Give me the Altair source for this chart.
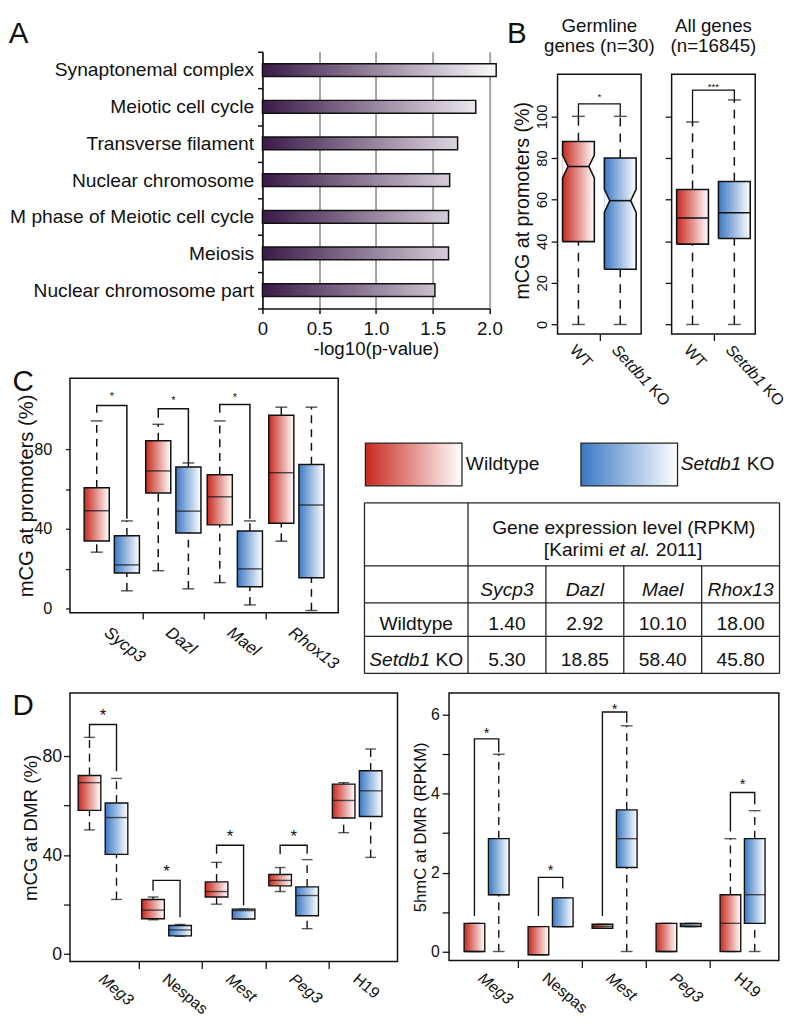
import altair as alt
import pandas as pd

FONT = "Liberation Sans"
INK = "#111111"
RED0 = "#c8291e"
BLUE0 = "#3b78c4"
PURPLE0 = "#3a1a48"
WHITE = "#ffffff"

panel_letters = ["A", "B", "C", "D"]

# ---------------- Panel A : GO enrichment
go_terms = ["Synaptonemal complex", "Meiotic cell cycle", "Transverse filament",
            "Nuclear chromosome", "M phase of Meiotic cell cycle", "Meiosis",
            "Nuclear chromosome part"]
go_logp = [2.06, 1.88, 1.72, 1.65, 1.64, 1.64, 1.52]
go_ticks = [0, 0.5, 1.0, 1.5, 2.0]
go_white_at = 2.1

# ---------------- Panel B : promoter mCG, WT vs Setdb1 KO
b_titles = [["Germline", "genes (n=30)"], ["All genes", "(n=16845)"]]
b_ytitle = "mCG at promoters (%)"
b_conditions = ["WT", "Setdb1 KO"]
b_italic_part = "Setdb1"
b_wt_low = [0.0, 0.0]
b_wt_q1 = [39.8, 38.6]
b_wt_med = [75.9, 51.2]
b_wt_q3 = [87.9, 64.9]
b_wt_up = [100.0, 97.3]
b_wt_nlo = [70.4, 51.2]
b_wt_nhi = [81.4, 51.2]
b_ko_low = [0.0, 0.0]
b_ko_q1 = [26.5, 41.3]
b_ko_med = [59.5, 53.7]
b_ko_q3 = [80.0, 68.7]
b_ko_up = [100.0, 107.9]
b_ko_nlo = [53.9, 53.7]
b_ko_nhi = [64.9, 53.7]
b_br_top = [106.0, 112.6]
b_star = ["*", "***"]
b_star_y = [110.5, 115.5]
b_yticks = [0, 20, 40, 60, 80, 100]
b_frame_y = [-4.6, 120.2]

# ---------------- Panel C : promoter mCG of germline genes
c_genes = ["Sycp3", "Dazl", "Mael", "Rhox13"]
c_wt_low = [28.3, 19.0, 13.0, 33.8]
c_wt_q1 = [33.9, 58.0, 42.0, 42.8]
c_wt_med = [49.1, 69.1, 56.1, 68.2]
c_wt_q3 = [60.6, 84.3, 67.2, 97.1]
c_wt_up = [94.2, 92.5, 94.2, 101.1]
c_ko_low = [8.9, 9.9, 1.8, -1.0]
c_ko_q1 = [17.8, 37.9, 10.9, 15.5]
c_ko_med = [21.9, 48.9, 19.9, 52.0]
c_ko_q3 = [36.5, 71.1, 38.9, 72.3]
c_ko_up = [44.0, 73.1, 44.0, 101.1]
c_br_idx = [0, 1, 2]
c_br_top = [102.0, 100.3, 102.4]
c_br_left = [98.3, 95.8, 98.3]
c_br_right = [45.1, 73.1, 45.1]
c_star_y = [107.7, 105.7, 107.3]
c_yticks = [0, 20, 40, 60, 80]

# ---------------- Panel D : imprinted DMRs
d_genes = ["Meg3", "Nespas", "Mest", "Peg3", "H19"]
d_italic = [True, False, True, True, False]
dm_wt_low = [50.2, 13.9, 20.2, 25.3, 49.1]
dm_wt_q1 = [58.1, 14.3, 23.1, 27.6, 55.0]
dm_wt_med = [69.3, 17.8, 25.3, 29.8, 62.1]
dm_wt_q3 = [72.2, 22.1, 29.2, 32.2, 68.7]
dm_wt_up = [87.6, 23.1, 37.1, 35.0, 69.3]
dm_ko_low = [22.1, 7.2, 14.2, 10.3, 39.1]
dm_ko_q1 = [40.3, 7.4, 14.2, 15.5, 55.6]
dm_ko_med = [55.2, 9.8, 17.6, 23.7, 66.0]
dm_ko_q3 = [61.1, 11.6, 18.2, 27.2, 74.1]
dm_ko_up = [71.0, 12.0, 18.2, 38.2, 82.9]
dm_br_idx = [0, 1, 2, 3]
dm_br_top = [92.8, 29.8, 44.0, 44.0]
dm_br_left = [87.6, 25.6, 40.6, 40.4]
dm_br_right = [73.9, 14.9, 19.8, 40.6]
dm_star_y = [98.0, 35.0, 49.1, 49.1]
dm_yticks = [0, 20, 40, 60, 80]

dh_wt_low = [0.0, -0.08, 0.59, 0.0, 0.0]
dh_wt_q1 = [0.0, -0.08, 0.59, 0.0, 0.0]
dh_wt_med = [0.0, -0.08, 0.64, 0.0, 0.715]
dh_wt_q3 = [0.715, 0.63, 0.69, 0.715, 1.44]
dh_wt_up = [0.715, 0.63, 0.69, 0.715, 2.86]
dh_ko_low = [0.0, 0.63, 0.0, 0.63, 0.0]
dh_ko_q1 = [1.44, 0.63, 2.13, 0.63, 0.715]
dh_ko_med = [1.44, 0.63, 2.86, 0.67, 1.44]
dh_ko_q3 = [2.86, 1.36, 3.59, 0.715, 2.86]
dh_ko_up = [5.0, 1.36, 5.72, 0.715, 3.57]
dh_br_idx = [0, 1, 2, 4]
dh_br_top = [5.39, 1.88, 6.07, 4.03]
dh_br_left = [0.9, 0.9, 0.9, 3.04]
dh_br_right = [5.05, 1.6, 5.8, 3.73]
dh_star_y = [5.64, 2.17, 6.25, 4.34]
dh_yticks = [0, 1, 2, 3, 4, 5, 6]

# ---------------- Table (Karimi et al. 2011)
tbl_header = ["Gene expression level (RPKM)", "[Karimi", "et al.", "2011]"]
tbl_genes = ["Sycp3", "Dazl", "Mael", "Rhox13"]
tbl_row_labels = ["Wildtype", "Setdb1 KO"]
tbl_wt = [1.40, 2.92, 10.10, 18.00]
tbl_ko = [5.30, 18.85, 58.40, 45.80]
tbl_col_edges = [0, 1.33, 2.33, 3.33, 4.33, 5.33]
tbl_row_edges = [0, 1.7, 2.7, 3.6, 4.6]
legend_labels = ["Wildtype", "Setdb1 KO"]

# ================= helpers =================
W_EM = {'S': .667, 'e': .556, 't': .278, 'd': .556, 'b': .556, '1': .556, ' ': .278,
        'K': .667, 'O': .778, '[': .278, ']': .278, 'a': .556, 'r': .333, 'i': .222,
        'm': .833, 'l': .222, '.': .278, '2': .556, '0': .556}


def text_w(s, size):
    return sum(W_EM.get(c, 0.556) for c in s) * size


def grad(c0, x2=1.0):
    return alt.LinearGradient(
        gradient="linear", x1=0, y1=0, x2=x2, y2=0,
        stops=[alt.GradientStop(color=c0, offset=0), alt.GradientStop(color=WHITE, offset=1)])


def enc_fns(xs, xa, ys, ya):
    X = lambda f: alt.X(f, type="quantitative", scale=xs, axis=xa)
    Y = lambda f: alt.Y(f, type="quantitative", scale=ys, axis=ya)
    return X, Y


def letter(txt, x, y):
    return (alt.Chart(pd.DataFrame({"t": [txt]}))
            .mark_text(fontSize=30, align="left", baseline="alphabetic")
            .encode(text="t:N", x=alt.value(x), y=alt.value(y)))


def stats_df(genes, wt, ko, off_wt, off_ko):
    rows = []
    for i, g in enumerate(genes):
        for cond, st, off in (("WT", wt, off_wt), ("KO", ko, off_ko)):
            low, q1, med, q3, up = (s[i] for s in st)
            rows.append(dict(gene=g, cond=cond, x=i + 1 + off, low=low, q1=q1,
                             med=med, q3=q3, up=up))
    return pd.DataFrame(rows)


def bracket_df(idx, tops, lb, rb, off_wt, off_ko):
    rows = []
    for b, (i, t, l, r) in enumerate(zip(idx, tops, lb, rb)):
        xw, xk = i + 1 + off_wt, i + 1 + off_ko
        for k, (x, y) in enumerate([(xw, l), (xw, t), (xk, t), (xk, r)]):
            rows.append(dict(bid=b, k=k, x=x, y=y))
    return pd.DataFrame(rows)


def star_df(idx, ys, labels, off_wt, off_ko):
    return pd.DataFrame(dict(x=[i + 1 + (off_wt + off_ko) / 2 for i in idx], y=ys, s=labels))


def box_layers(df, brk, stars, X, Y, box_px, cap_px, star_px, sw=1.4, dash=(8, 6)):
    L = []
    base = alt.Chart(df)
    L.append(base.mark_rule(color=INK, strokeWidth=sw, strokeDash=list(dash))
             .encode(x=X("x"), y=Y("q3"), y2="up"))
    L.append(base.mark_rule(color=INK, strokeWidth=sw, strokeDash=list(dash))
             .encode(x=X("x"), y=Y("low"), y2="q1"))
    L.append(base.mark_tick(orient="horizontal", size=cap_px, thickness=sw, color=INK)
             .encode(x=X("x"), y=Y("up")))
    L.append(base.mark_tick(orient="horizontal", size=cap_px, thickness=sw, color=INK)
             .encode(x=X("x"), y=Y("low")))
    for cond, c0 in (("WT", RED0), ("KO", BLUE0)):
        L.append(base.transform_filter(alt.datum.cond == cond)
                 .mark_bar(size=box_px, fill=grad(c0), stroke=INK, strokeWidth=sw)
                 .encode(x=X("x"), y=Y("q1"), y2="q3"))
    L.append(base.mark_tick(orient="horizontal", size=box_px, thickness=sw, color=INK)
             .encode(x=X("x"), y=Y("med")))
    if brk is not None:
        L.append(alt.Chart(brk).mark_line(color=INK, strokeWidth=sw)
                 .encode(x=X("x"), y=Y("y"), detail="bid:N", order="k:Q"))
        L.append(alt.Chart(stars).mark_text(fontSize=star_px, color=INK, dy=0.27 * star_px)
                 .encode(x=X("x"), y=Y("y"), text="s:N"))
    return L


def group_xaxis(names, italic, unit_px, tick_px, label_px, pad, angle):
    vals = [i + 1.5 for i in range(len(names))]
    expr = " : ".join(f"datum.value == {v} ? '{n}'" for v, n in zip(vals, names)) + " : ''"
    normals = [v for v, it in zip(vals, italic) if not it]
    if normals:
        style = {"condition": {"test": " || ".join(f"datum.value == {v}" for v in normals),
                               "value": "normal"}, "value": "italic"}
    else:
        style = "italic"
    return alt.Axis(values=vals, labelExpr=expr, labelOffset=-unit_px / 2, labelAngle=angle,
                    labelAlign="left", labelBaseline="top", labelFontSize=label_px,
                    labelFontStyle=style, tickSize=tick_px, labelPadding=pad,
                    tickOpacity={"condition": {"test": f"datum.value >= {vals[-1]}", "value": 0},
                                 "value": 1},
                    labelOverlap=False, labelFlush=False, domain=False, grid=False, title=None)


def value_yaxis(vals, step_label, label_px, pad, tick_px, title, title_px, title_pad):
    return alt.Axis(values=vals, labelExpr=f"datum.value % {step_label} == 0 ? datum.label : ''",
                    labelFontSize=label_px, labelPadding=pad, tickSize=tick_px, labelAngle=0,
                    title=title, titleFontSize=title_px, titlePadding=title_pad,
                    labelOverlap=False, labelFlush=False, domain=False, grid=False)


def row(*charts, spacing=0):
    return alt.concat(*charts, columns=len(charts), spacing=spacing, align="none")


def col(*charts, spacing=0):
    return alt.concat(*charts, columns=1, spacing=spacing, align="none")


FRAME = alt.ViewBackground(stroke=INK, strokeWidth=1.5)
NOFRAME = alt.ViewBackground(stroke="transparent")


def spacer():
    return (alt.Chart(pd.DataFrame({"a": [0]})).mark_rect(opacity=0)
            .encode(x=alt.value(0), x2=alt.value(1), y=alt.value(0), y2=alt.value(1))
            .properties(width=1, height=1, view=NOFRAME))


# ================= Panel A =================
A_W, A_H = 230.7, 261
dfA = pd.DataFrame({"term": go_terms, "v": go_logp})
xA = alt.X("v:Q", scale=alt.Scale(domain=[0, 2.0], nice=False, zero=True),
           axis=alt.Axis(values=go_ticks,
                         labelExpr="datum.value == 0 ? '0' : format(datum.value, '.1f')",
                         labelFontSize=19, labelPadding=6, tickSize=5, tickWidth=1.5,
                         domainWidth=1.5, labelFlush=False, labelOverlap=False,
                         grid=True, gridColor="#a3a3a3", gridWidth=2,
                         title="-log10(p-value)", titleFontSize=19, titlePadding=2))
yA = alt.Y("term:N", sort=go_terms, scale=alt.Scale(paddingInner=0, paddingOuter=0),
           axis=alt.Axis(tickBand="extent", tickSize=5, tickWidth=1.5, domainWidth=1.5,
                         labelFontSize=19.5, labelPadding=4, labelLimit=400, title=None))
a_layers = []
for t, v in zip(go_terms, go_logp):
    a_layers.append(alt.Chart(dfA).transform_filter(alt.datum.term == t)
                    .mark_bar(size=13, fill=grad(PURPLE0, x2=go_white_at / v),
                              stroke=INK, strokeWidth=1.5)
                    .encode(x=xA, y=yA))
a_layers.append(letter(panel_letters[0], -258, -9.3))
A = alt.layer(*a_layers).properties(width=A_W, height=A_H, view=NOFRAME)

# ================= Panel B =================
B_W, B_H = 85, 287
B_HALF, B_INSET = 0.38, 0.13
B_LBL = 16
bxs = alt.Scale(domain=[0.5, 2.5], nice=False, zero=False)
bys = alt.Scale(domain=[-4.6, 131.05], nice=False, zero=False)


def b_panel(i):
    stats = {"WT": [b_wt_low[i], b_wt_q1[i], b_wt_med[i], b_wt_q3[i], b_wt_up[i], b_wt_nlo[i], b_wt_nhi[i]],
             "KO": [b_ko_low[i], b_ko_q1[i], b_ko_med[i], b_ko_q3[i], b_ko_up[i], b_ko_nlo[i], b_ko_nhi[i]]}
    boxes, outline, wedges = [], [], []
    for j, cond in enumerate(["WT", "KO"]):
        low, q1, med, q3, up, nl, nh = stats[cond]
        xc = j + 1
        lft, rgt = xc - B_HALF, xc + B_HALF
        ins = B_INSET if nh > nl else 0.0
        boxes.append(dict(cond=cond, x=xc, lft=lft, rgt=rgt, low=low, q1=q1, med=med, q3=q3,
                          up=up, ml=lft + ins, mr=rgt - ins))
        pts = [(lft, q1), (rgt, q1), (rgt, nl), (rgt - ins, med), (rgt, nh), (rgt, q3),
               (lft, q3), (lft, nh), (lft + ins, med), (lft, nl), (lft, q1)]
        for k, (px, py) in enumerate(pts):
            outline.append(dict(bid=j, k=k, x=px, y=py))
        if ins > 0:
            for w, (edge, tip) in enumerate([(lft, lft + ins), (rgt, rgt - ins)]):
                wedges.append(dict(wid=f"{j}{w}", x=edge, y=nl, y2=nh))
                wedges.append(dict(wid=f"{j}{w}", x=tip, y=med, y2=med))
    dfb = pd.DataFrame(boxes)
    ya = alt.Axis(values=b_yticks, labelAngle=-90, labelFontSize=15, labelPadding=2,
                  tickSize=6.5, domain=False, grid=False, labels=(i == 0),
                  labelOverlap=False, labelFlush=False, title=None)
    xa = alt.Axis(values=[1.5], labels=False, tickSize=6.5, domain=False, grid=False, title=None)
    X, Y = enc_fns(bxs, xa, bys, ya)
    L = []
    base = alt.Chart(dfb)
    dash = [9, 7]
    L.append(base.mark_rule(color=INK, strokeWidth=1.5, strokeDash=dash).encode(x=X("x"), y=Y("q3"), y2="up"))
    L.append(base.mark_rule(color=INK, strokeWidth=1.5, strokeDash=dash).encode(x=X("x"), y=Y("low"), y2="q1"))
    L.append(base.mark_tick(orient="horizontal", size=13, thickness=1.5, color=INK).encode(x=X("x"), y=Y("up")))
    L.append(base.mark_tick(orient="horizontal", size=13, thickness=1.5, color=INK).encode(x=X("x"), y=Y("low")))
    for cond, c0 in (("WT", RED0), ("KO", BLUE0)):
        L.append(base.transform_filter(alt.datum.cond == cond)
                 .mark_rect(fill=grad(c0))
                 .encode(x=X("lft"), x2="rgt", y=Y("q1"), y2="q3"))
    if wedges:
        L.append(alt.Chart(pd.DataFrame(wedges)).mark_area(fill=WHITE, orient="vertical")
                 .encode(x=X("x"), y=Y("y"), y2="y2", detail="wid:N"))
    L.append(alt.Chart(pd.DataFrame(outline)).mark_line(color=INK, strokeWidth=1.6)
             .encode(x=X("x"), y=Y("y"), detail="bid:N", order="k:Q"))
    L.append(base.mark_rule(color=INK, strokeWidth=1.6).encode(x=X("ml"), x2="mr", y=Y("med")))
    brk = pd.DataFrame(dict(bid=[0] * 4, k=[0, 1, 2, 3], x=[1, 1, 2, 2],
                            y=[b_wt_up[i], b_br_top[i], b_br_top[i], b_ko_up[i]]))
    L.append(alt.Chart(brk).mark_line(color=INK, strokeWidth=1.3)
             .encode(x=X("x"), y=Y("y"), detail="bid:N", order="k:Q"))
    st = pd.DataFrame(dict(x=[1.5], y=[b_star_y[i]], s=[b_star[i]]))
    L.append(alt.Chart(st).mark_text(fontSize=10, dy=2.7).encode(x=X("x"), y=Y("y"), text="s:N"))
    # panel frame (the plot box), drawn over the data range
    fr = pd.DataFrame(dict(x=[0.5], x2=[2.5], y=[b_frame_y[0]], y2=[b_frame_y[1]]))
    L.append(alt.Chart(fr).mark_rect(fill="transparent", stroke=INK, strokeWidth=1.5)
             .encode(x=X("x"), x2="x2", y=Y("y"), y2="y2"))
    # rotated condition labels (gene symbol in italics)
    rest = b_conditions[1].replace(b_italic_part, "").strip()
    lab = pd.DataFrame(dict(x=[1, 2, 2], t=[b_conditions[0], b_italic_part, rest],
                            st=["normal", "italic", "normal"], sh=[0, 0, 1]))
    for sty, sh in (("normal", 0), ("italic", 0), ("normal", 1)):
        L.append(alt.Chart(lab).transform_filter((alt.datum.st == sty) & (alt.datum.sh == sh))
                 .mark_text(fontSize=B_LBL, angle=47, align="left", baseline="top", fontStyle=sty,
                            dx=text_w(b_italic_part + " ", B_LBL) * sh)
                 .encode(x=X("x"), y=alt.value(B_H + 8), text="t:N"))
    # column title: two single-line texts
    for ln, txt in enumerate(b_titles[i]):
        L.append(alt.Chart(pd.DataFrame({"t": [txt]}))
                 .mark_text(fontSize=19, align="center", baseline="alphabetic")
                 .encode(text="t:N", x=alt.value(B_W / 2), y=alt.value(-20.3 + 21 * ln)))
    if i == 0:
        L.append(alt.Chart(pd.DataFrame({"t": [b_ytitle]}))
                 .mark_text(fontSize=20, angle=270, align="center", baseline="middle")
                 .encode(text="t:N", x=alt.value(-35), y=alt.value(151.5)))
        L.append(letter(panel_letters[1], -51.3, -9.3))
    return alt.layer(*L).properties(width=B_W, height=B_H, view=NOFRAME)


B1 = b_panel(0)
B2 = b_panel(1)

# ================= Panel C =================
C_W, C_H = 272.7, 238.3
C_OFF = 0.245
cxs = alt.Scale(domain=[0.4, 4.6], nice=False, zero=False)
cys = alt.Scale(domain=[-2.1, 115.6], nice=False, zero=False)
cxa = group_xaxis(c_genes, [True] * 4, C_W / 4.2, 6.5, 17, 5, 38)
cya = value_yaxis(c_yticks, 40, 16.5, 14, 4.5, "mCG at promoters (%)", 20.5, -3)
X, Y = enc_fns(cxs, cxa, cys, cya)
dfc = stats_df(c_genes, [c_wt_low, c_wt_q1, c_wt_med, c_wt_q3, c_wt_up],
               [c_ko_low, c_ko_q1, c_ko_med, c_ko_q3, c_ko_up], -C_OFF, C_OFF)
brc = bracket_df(c_br_idx, c_br_top, c_br_left, c_br_right, -C_OFF, C_OFF)
stc = star_df(c_br_idx, c_star_y, ["*"] * len(c_br_idx), -C_OFF, C_OFF)
C = alt.layer(*box_layers(dfc, brc, stc, X, Y, 25.5, 12, 11, sw=1.5),
              letter(panel_letters[2], -58.3, 13)).properties(
    width=C_W, height=C_H, view=FRAME)

# ================= Table + legend =================
T_W, T_H = 422, 300
TX = T_W / tbl_col_edges[-1]
txs = alt.Scale(domain=[0, tbl_col_edges[-1]], nice=False, zero=False)
tys = alt.Scale(domain=[-3.358, tbl_row_edges[-1]], nice=False, zero=False, reverse=True)
TXe = lambda f: alt.X(f, type="quantitative", scale=txs, axis=None)
TYe = lambda f: alt.Y(f, type="quantitative", scale=tys, axis=None)
FS_T = 19.5

lines = []
for y in tbl_row_edges:
    lines.append(dict(x=0, x2=tbl_col_edges[-1], y=y, y2=y))
for x in (tbl_col_edges[0], tbl_col_edges[1], tbl_col_edges[-1]):
    lines.append(dict(x=x, x2=x, y=tbl_row_edges[0], y2=tbl_row_edges[-1]))
for x in tbl_col_edges[2:-1]:
    lines.append(dict(x=x, x2=x, y=tbl_row_edges[1], y2=tbl_row_edges[-1]))
dfl = pd.DataFrame(lines)

col_c = [(a + b) / 2 for a, b in zip(tbl_col_edges[:-1], tbl_col_edges[1:])]
hdr_c = (tbl_col_edges[1] + tbl_col_edges[-1]) / 2
items = []
items.append(dict(x=hdr_c, y=0.69, t=tbl_header[0], st="normal", al="center"))
w1 = text_w(tbl_header[1] + " ", FS_T)
w2 = text_w(tbl_header[2] + " ", FS_T)
w3 = text_w(tbl_header[3], FS_T)
start = hdr_c * TX - (w1 + w2 + w3) / 2
items.append(dict(x=start / TX, y=1.28, t=tbl_header[1], st="normal", al="left"))
items.append(dict(x=(start + w1) / TX, y=1.28, t=tbl_header[2], st="italic", al="left"))
items.append(dict(x=(start + w1 + w2) / TX, y=1.28, t=tbl_header[3], st="normal", al="left"))
for c, g in zip(col_c[1:], tbl_genes):
    items.append(dict(x=c, y=2.35, t=g, st="italic", al="center"))
row_y = [3.27, 4.24]
items.append(dict(x=col_c[0], y=row_y[0], t=tbl_row_labels[0], st="normal", al="center"))
ko_it = tbl_row_labels[1].split(" ")[0]
ko_rest = tbl_row_labels[1][len(ko_it):].strip()
ko_tot = text_w(tbl_row_labels[1], FS_T)
ko_start = col_c[0] * TX - ko_tot / 2
items.append(dict(x=ko_start / TX, y=row_y[1], t=ko_it, st="italic", al="left"))
items.append(dict(x=(ko_start + text_w(ko_it + " ", FS_T)) / TX, y=row_y[1], t=ko_rest, st="normal", al="left"))
for c, v in zip(col_c[1:], tbl_wt):
    items.append(dict(x=c, y=row_y[0], t=f"{v:.2f}", st="normal", al="center"))
for c, v in zip(col_c[1:], tbl_ko):
    items.append(dict(x=c, y=row_y[1], t=f"{v:.2f}", st="normal", al="center"))
LEG_Y0, LEG_Y1, LEG_TY = -1.61, -0.46, -1.04
leg_x0 = [0.012, 2.78]
leg_w = 1.24
items.append(dict(x=leg_x0[0] + leg_w + 0.05, y=LEG_TY, t=legend_labels[0], st="normal", al="left"))
lx = leg_x0[1] + leg_w + 0.04
items.append(dict(x=lx, y=LEG_TY, t=ko_it, st="italic", al="left"))
items.append(dict(x=lx + text_w(ko_it + " ", FS_T) / TX, y=LEG_TY, t=ko_rest, st="normal", al="left"))
dft = pd.DataFrame(items)

t_layers = [alt.Chart(dfl).mark_rule(color="#222222", strokeWidth=1.3)
            .encode(x=TXe("x"), x2="x2", y=TYe("y"), y2="y2")]
for (sty, al), _ in dft.groupby(["st", "al"]):
    t_layers.append(alt.Chart(dft).transform_filter((alt.datum.st == sty) & (alt.datum.al == al))
                    .mark_text(fontSize=FS_T, fontStyle=sty, align=al, baseline="middle")
                    .encode(x=TXe("x"), y=TYe("y"), text="t:N"))
dfsw = pd.DataFrame(dict(lab=legend_labels, x=leg_x0, x2=[v + leg_w for v in leg_x0],
                         y=[LEG_Y0] * 2, y2=[LEG_Y1] * 2))
for lab, c0 in zip(legend_labels, (RED0, BLUE0)):
    t_layers.append(alt.Chart(dfsw).transform_filter(alt.datum.lab == lab)
                    .mark_rect(fill=grad(c0), stroke="#222222", strokeWidth=1.3)
                    .encode(x=TXe("x"), x2="x2", y=TYe("y"), y2="y2"))
T = alt.layer(*t_layers).properties(width=T_W, height=T_H, view=NOFRAME)

# ================= Panel D (left: mCG) =================
DL_W, DL_H = 333, 273
dmxs = alt.Scale(domain=[0.5, 5.5], nice=False, zero=False)
dmys = alt.Scale(domain=[-3.0, 105.5], nice=False, zero=False)
dmxa = group_xaxis(d_genes, d_italic, DL_W / 5, 7, 16, 2, 40)
dmya = value_yaxis(dm_yticks, 40, 18, 2, 6.5, "mCG at DMR (%)", 19, 1)
X, Y = enc_fns(dmxs, dmxa, dmys, dmya)
DM_WT, DM_KO = -0.27, 0.155
dfdm = stats_df(d_genes, [dm_wt_low, dm_wt_q1, dm_wt_med, dm_wt_q3, dm_wt_up],
                [dm_ko_low, dm_ko_q1, dm_ko_med, dm_ko_q3, dm_ko_up], DM_WT, DM_KO)
brdm = bracket_df(dm_br_idx, dm_br_top, dm_br_left, dm_br_right, DM_WT, DM_KO)
stdm = star_df(dm_br_idx, dm_star_y, ["*"] * len(dm_br_idx), DM_WT, DM_KO)
DL = alt.layer(*box_layers(dfdm, brdm, stdm, X, Y, 23, 11, 17, sw=1.4),
               letter(panel_letters[3], -58.3, 22)).properties(
    width=DL_W, height=DL_H, view=FRAME)

# ================= Panel D (right: 5hmC) =================
DR_W, DR_H = 335.3, 272
dhxs = alt.Scale(domain=[0.5, 5.5], nice=False, zero=False)
dhys = alt.Scale(domain=[-0.23, 6.55], nice=False, zero=False)
dhxa = group_xaxis(d_genes, d_italic, DR_W / 5, 7, 16, 2, 40)
dhya = value_yaxis(dh_yticks, 2, 16, 3, 7, "5hmC at DMR (RPKM)", 17, 1)
X, Y = enc_fns(dhxs, dhxa, dhys, dhya)
DH_WT, DH_KO = -0.18, 0.2
dfdh = stats_df(d_genes, [dh_wt_low, dh_wt_q1, dh_wt_med, dh_wt_q3, dh_wt_up],
                [dh_ko_low, dh_ko_q1, dh_ko_med, dh_ko_q3, dh_ko_up], DH_WT, DH_KO)
brdh = bracket_df(dh_br_idx, dh_br_top, dh_br_left, dh_br_right, DH_WT, DH_KO)
stdh = star_df(dh_br_idx, dh_star_y, ["*"] * len(dh_br_idx), DH_WT, DH_KO)
DR = alt.layer(*box_layers(dfdh, brdh, stdh, X, Y, 21, 12, 15, sw=1.4)).properties(
    width=DR_W, height=DR_H, view=FRAME)

# ================= Layout =================
# Grid origins of first cells coincide, so a 1px invisible spacer anchors row 1.
row1 = row(row(spacer(), A, spacing=-65.3), row(B1, B2, spacing=-10), spacing=2.7)
row2 = row(C, T, spacing=20.4)
row3 = row(DL, DR, spacing=12.4)
chart = (col(col(row1, row2, spacing=-44), row3, spacing=15)
         .properties(padding={"left": 0, "top": 0, "right": 0, "bottom": 0})
         .configure(font=FONT)
         .configure_axis(labelFont=FONT, titleFont=FONT, labelColor=INK, titleColor=INK,
                         tickColor=INK, domainColor=INK, tickWidth=1.3, titleFontWeight="normal")
         .configure_title(font=FONT, fontWeight="normal", color=INK)
         .configure_text(font=FONT, color=INK))

chart.save("out.html", embed_options={"renderer": "svg", "actions": False})
